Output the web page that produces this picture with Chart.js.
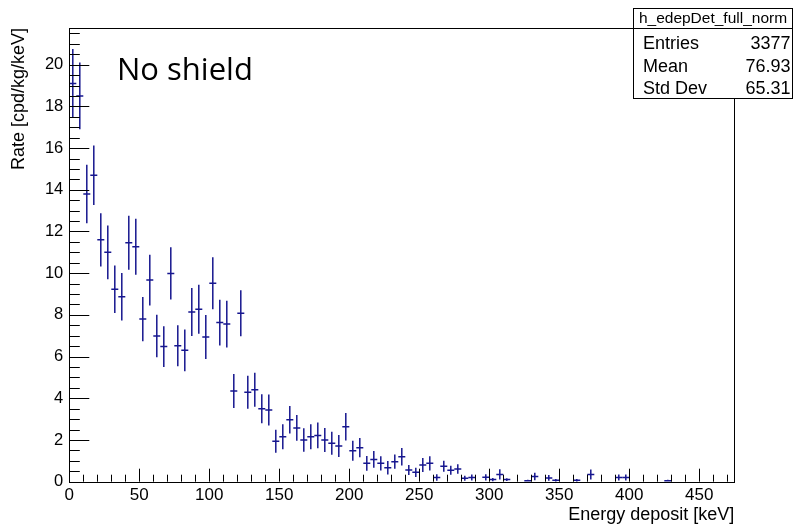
<!DOCTYPE html>
<html>
<head>
<meta charset="utf-8">
<script src="https://cdn.jsdelivr.net/npm/chart.js@4/dist/chart.umd.min.js"></script>
<style>
  body { margin: 0; background: #fff; }
  #edepChart { display: block; }
</style>
</head>
<body>
<canvas id="edepChart" width="800" height="525"></canvas>
<script>
// 5 keV bins; centres in keV, empty bins are left out
const binWidth = 5;
const binCentres = [
  2.5, 7.5, 12.5, 17.5, 22.5, 27.5, 32.5, 37.5, 42.5, 47.5,
  52.5, 57.5, 62.5, 67.5, 72.5, 77.5, 82.5, 87.5, 92.5, 97.5,
  102.5, 107.5, 112.5, 117.5, 122.5, 127.5, 132.5, 137.5, 142.5, 147.5,
  152.5, 157.5, 162.5, 167.5, 172.5, 177.5, 182.5, 187.5, 192.5, 197.5,
  202.5, 207.5, 212.5, 217.5, 222.5, 227.5, 232.5, 237.5, 242.5, 247.5,
  252.5, 257.5, 262.5, 267.5, 272.5, 277.5, 282.5, 287.5, 297.5, 302.5,
  307.5, 312.5, 327.5, 332.5, 342.5, 347.5, 362.5, 372.5, 392.5, 397.5,
  427.5
];
const rate = [
  19.1, 18.5, 13.8, 14.7, 11.6, 11.0, 9.23, 8.87, 11.46, 11.27,
  7.8, 9.67, 6.99, 6.48, 9.99, 6.52, 6.3, 8.14, 8.27, 6.94,
  9.52, 7.63, 7.56, 4.35, 8.08, 4.29, 4.41, 3.5, 3.44, 1.94,
  2.16, 2.97, 2.58, 2.0, 2.16, 2.22, 2.0, 1.84, 1.71, 2.64,
  1.49, 1.63, 0.88, 1.07, 0.88, 0.67, 0.96, 1.2, 0.56, 0.45,
  0.8, 0.88, 0.2, 0.74, 0.55, 0.61, 0.16, 0.2, 0.21, 0.1,
  0.35, 0.1, 0.05, 0.25, 0.18, 0.07, 0.07, 0.35, 0.2, 0.2,
  0.05
];
const rateErr = [
  1.65, 1.6, 1.4, 1.43, 1.28, 1.29, 1.14, 1.14, 1.3, 1.34,
  1.06, 1.22, 1.02, 0.98, 1.25, 0.98, 1.0, 1.15, 1.17, 1.06,
  1.25, 1.1, 1.12, 0.82, 1.1, 0.79, 0.82, 0.7, 0.74, 0.55,
  0.6, 0.66, 0.62, 0.56, 0.6, 0.62, 0.58, 0.55, 0.53, 0.66,
  0.48, 0.46, 0.35, 0.4, 0.34, 0.32, 0.34, 0.42, 0.24, 0.22,
  0.34, 0.34, 0.16, 0.26, 0.22, 0.23, 0.12, 0.14, 0.15, 0.08,
  0.25, 0.07, 0.04, 0.18, 0.14, 0.06, 0.06, 0.24, 0.14, 0.14,
  0.04
];

const statsTitle = 'h_edepDet_full_norm';
const statsLabels = ['Entries', 'Mean', 'Std Dev'];
const statsValues = ['3377', '76.93', '65.31'];
const panelLabel = 'No shield';

const markerColour = '#16168f';
const axisFont = 'Liberation Sans, Arial, sans-serif';

// ROOT-style drawing: error crosses, framed pad with inward ticks, stats box
const rootStyle = {
  id: 'rootStyle',
  afterDatasetsDraw(chart) {
    const { ctx } = chart;
    const xs = chart.scales.x, ys = chart.scales.y;
    ctx.save();
    ctx.strokeStyle = markerColour;
    ctx.lineWidth = 1.5;
    binCentres.forEach((c, i) => {
      const px = xs.getPixelForValue(c);
      const x0 = xs.getPixelForValue(c - binWidth / 2);
      const x1 = xs.getPixelForValue(c + binWidth / 2);
      const py = ys.getPixelForValue(rate[i]);
      const yHi = ys.getPixelForValue(rate[i] + rateErr[i]);
      const yLo = ys.getPixelForValue(Math.max(0, rate[i] - rateErr[i]));
      ctx.beginPath();
      ctx.moveTo(x0, py);
      ctx.lineTo(x1, py);
      ctx.moveTo(px, yHi);
      ctx.lineTo(px, yLo);
      ctx.stroke();
    });
    ctx.restore();
  },
  afterDraw(chart) {
    const { ctx, chartArea: a } = chart;
    const xs = chart.scales.x, ys = chart.scales.y;
    ctx.save();
    ctx.strokeStyle = '#000';
    ctx.lineWidth = 1;

    // frame
    ctx.strokeRect(Math.round(a.left) + 0.5, Math.round(a.top) + 0.5,
      Math.round(a.right - a.left), Math.round(a.bottom - a.top));

    // x ticks: minor every 10, major every 50
    ctx.beginPath();
    for (let v = 0; v <= xs.max; v += 10) {
      const px = Math.round(xs.getPixelForValue(v)) + 0.5;
      const len = v % 50 === 0 ? 13 : 7;
      ctx.moveTo(px, a.bottom);
      ctx.lineTo(px, a.bottom - len);
    }
    // y ticks: minor every 0.5, major every 2
    for (let k = 0; k * 0.5 <= ys.max; k++) {
      const py = Math.round(ys.getPixelForValue(k * 0.5)) + 0.5;
      const len = k % 4 === 0 ? 20 : 10.5;
      ctx.moveTo(a.left, py);
      ctx.lineTo(a.left + len, py);
    }
    ctx.stroke();

    // stats box
    const bx = 633.5, by = 8.5, bw = 159, bh = 90;
    ctx.fillStyle = '#fff';
    ctx.fillRect(bx, by, bw, bh);
    ctx.strokeRect(bx, by, bw, bh);
    ctx.beginPath();
    ctx.moveTo(bx, 28.5);
    ctx.lineTo(bx + bw, 28.5);
    ctx.stroke();

    ctx.fillStyle = '#000';
    ctx.textBaseline = 'alphabetic';
    ctx.font = '15.5px ' + axisFont;
    ctx.textAlign = 'center';
    ctx.fillText(statsTitle, bx + bw / 2, 23);
    ctx.font = '18px ' + axisFont;
    const rowY = [48.5, 71.5, 93.5];
    statsLabels.forEach((lab, i) => {
      ctx.textAlign = 'left';
      ctx.fillText(lab, 643, rowY[i]);
      ctx.textAlign = 'right';
      ctx.fillText(statsValues[i], 790.5, rowY[i]);
    });

    // panel label
    ctx.textAlign = 'left';
    ctx.font = '31px "Open Sans", Lato, sans-serif';
    ctx.fillText(panelLabel, 117, 80);
    ctx.restore();
  }
};

new Chart(document.getElementById('edepChart'), {
  type: 'scatter',
  data: {
    datasets: [{
      data: binCentres.map((c, i) => ({ x: c, y: rate[i] })),
      pointRadius: 0,
      showLine: false
    }]
  },
  options: {
    responsive: false,
    animation: false,
    layout: { padding: { top: 28, right: 65.7, left: 0, bottom: 0 } },
    plugins: { legend: { display: false }, tooltip: { enabled: false } },
    scales: {
      x: {
        type: 'linear',
        min: 0,
        max: 475,
        afterFit: s => { s.height = 43.3; },
        grid: { display: false, drawTicks: false },
        border: { display: false },
        ticks: {
          stepSize: 50,
          includeBounds: false,
          maxRotation: 0,
          autoSkip: false,
          padding: 3,
          color: '#000',
          font: { family: axisFont, size: 17 }
        },
        title: {
          display: true,
          text: 'Energy deposit [keV]',
          align: 'end',
          color: '#000',
          padding: 0,
          font: { family: axisFont, size: 18, lineHeight: 1.1 }
        }
      },
      y: {
        min: 0,
        max: 21.76,
        afterFit: s => { s.width = 69.3; },
        grid: { display: false, drawTicks: false },
        border: { display: false },
        ticks: {
          stepSize: 2,
          includeBounds: false,
          padding: 6,
          color: '#000',
          font: { family: axisFont, size: 16.5 }
        },
        title: {
          display: true,
          text: 'Rate [cpd/kg/keV]',
          align: 'end',
          color: '#000',
          padding: { top: 9, bottom: 0 },
          font: { family: axisFont, size: 18, lineHeight: 1.1 }
        }
      }
    }
  },
  plugins: [rootStyle]
});
</script>
</body>
</html>
